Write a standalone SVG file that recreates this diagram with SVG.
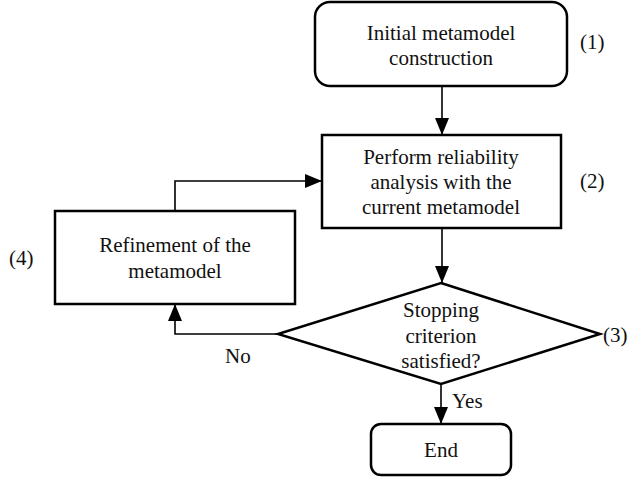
<svg xmlns="http://www.w3.org/2000/svg" width="637" height="479" viewBox="0 0 637 479">
<style>
.n{fill:#fff;stroke:#000;stroke-width:2.5}
.c{fill:none;stroke:#000;stroke-width:1.6}
text{font-family:"Times New Roman","Liberation Serif",Tinos,"DejaVu Serif","Noto Serif",serif;font-size:21px;fill:#111}
.m{text-anchor:middle}
</style>
<defs>
<marker id="ah" markerUnits="userSpaceOnUse" markerWidth="18" markerHeight="14" refX="17" refY="7" orient="auto">
<path d="M0,0 L17,7 L0,14 Z" fill="#000"/>
</marker>
</defs>
<rect width="637" height="479" fill="#fff"/>
<g id="connectors">
<path class="c" d="M442,86 V135" marker-end="url(#ah)"/>
<path class="c" d="M442,228 V283" marker-end="url(#ah)"/>
<path class="c" d="M175,211 V181 H322" marker-end="url(#ah)"/>
<path class="c" d="M278,334 H175 V304" marker-end="url(#ah)"/>
<path class="c" d="M441,384 V424" marker-end="url(#ah)"/>
<text x="225" y="363">No</text>
<text x="452" y="408">Yes</text>
</g>
<g id="n1">
<rect class="n" x="315" y="2" width="252" height="84" rx="15"/>
<text class="m" x="441" y="40">Initial metamodel</text>
<text class="m" x="441" y="65">construction</text>
<text x="580" y="49">(1)</text>
</g>
<g id="n2">
<rect class="n" x="322" y="135" width="239" height="93"/>
<text class="m" x="441" y="163.5">Perform reliability</text>
<text class="m" x="441" y="188.5">analysis with the</text>
<text class="m" x="441" y="213.5">current metamodel</text>
<text x="580" y="188">(2)</text>
</g>
<g id="n3">
<polygon class="n" points="441,283 600,334 441,384 278,334"/>
<text class="m" x="441" y="317">Stopping</text>
<text class="m" x="441" y="343">criterion</text>
<text class="m" x="441" y="368">satisfied?</text>
<text x="603" y="342">(3)</text>
</g>
<g id="n4">
<rect class="n" x="55" y="211" width="240" height="93"/>
<text class="m" x="175" y="252">Refinement of the</text>
<text class="m" x="175" y="278">metamodel</text>
<text x="9" y="265">(4)</text>
</g>
<g id="n5">
<rect class="n" x="371" y="424" width="140" height="51" rx="10"/>
<text class="m" x="441" y="457">End</text>
</g>
</svg>
